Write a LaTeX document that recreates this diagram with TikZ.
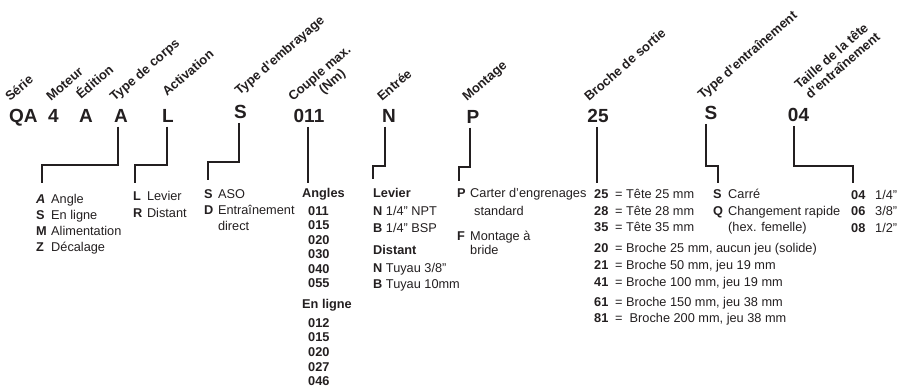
\documentclass[tikz,border=0pt]{standalone}
\usepackage{fontspec}
\setmainfont{Liberation Sans}
\usepackage{xcolor}
\definecolor{codeink}{HTML}{231F20}

\begin{document}
\begin{tikzpicture}[
    x=1pt, y=-1pt,
    every node/.style={inner sep=0pt, text=codeink},
    code/.style={font=\fontsize{19}{19}\selectfont\bfseries, anchor=base, inner ysep=4.5pt},
    field/.style={font=\fontsize{13}{14.5}\selectfont\bfseries, rotate=41, anchor=base west},
    legend/.style={font=\fontsize{12.75}{16}\selectfont, anchor=base west},
    link/.style={draw=codeink, line width=1.8pt}
]
    \useasboundingbox (0,0) rectangle (898,388);

    % order code
    \node[code] (cserie) at (23.3,122) {QA};
    \node[code] (cmoteur) at (53.5,122) {4};
    \node[code] (cedition) at (86,122) {A};
    \node[code] (ccorps) at (121,122) {A};
    \node[code] (cactiv) at (168,122) {L};
    \node[code] (cembr) at (240.5,118) {S};
    \node[code] (ccouple) at (309,122) {011};
    \node[code] (centree) at (389,122) {N};
    \node[code] (cmont) at (473,123) {P};
    \node[code] (cbroche) at (598,122) {25};
    \node[code] (centr) at (711,119) {S};
    \node[code] (ctaille) at (798.5,121) {04};

    % field names
    \node[field] (fserie) at (10,102) {Série};
    \node[field] (fmoteur) at (51,102) {Moteur};
    \node[field] (fedition) at (81,100) {Édition};
    \node[field] (fcorps) at (114.5,102) {Type de corps};
    \node[field] (factiv) at (167,97) {Activation};
    \node[field] (fembr) at (239.5,96) {Type d'embrayage};
    \node[field] (fcouple) at (293,102) {\begin{tabular}[t]{@{}c@{}}Couple max.\\\hspace*{8pt}(Nm)\end{tabular}};
    \node[field] (fentree) at (382,102) {Entrée};
    \node[field] (fmont) at (467,102) {Montage};
    \node[field] (fbroche) at (589,102) {Broche de sortie};
    \node[field] (fentr) at (702.5,100) {Type d'entraînement};
    \node[field] (ftaille) at (797,92) {\begin{tabular}[t]{@{}c@{}}Taille de la tête\\\hspace*{5pt}d'entraînement\end{tabular}};

    % options
    \node[legend] (lcorps) at (36,203) {\begin{tabular}[t]{@{}l@{\hspace{4.4pt}}l@{}}
        \textbf{\textit{A}} & Angle\\
        \textbf{S} & En ligne\\
        \textbf{M} & Alimentation\\
        \textbf{Z} & Décalage
    \end{tabular}};
    \node[legend] (lactiv) at (133,200) {\begin{tabular}[t]{@{}l@{\hspace{4.6pt}}l@{}}
        \textbf{L} & Levier\\[1pt]
        \textbf{R} & Distant
    \end{tabular}};
    \node[legend] (lembr) at (204,198) {\begin{tabular}[t]{@{}l@{\hspace{4.6pt}}l@{}}
        \textbf{S} & ASO\\
        \textbf{D} & Entraînement\\
        & direct
    \end{tabular}};
    \node[legend] (lcouple) at (302,197) {\begin{tabular}[t]{@{}l@{}}
        \textbf{Angles}\\[2pt]
        \hspace*{6pt}\textbf{011}\\[-1.5pt]
        \hspace*{6pt}\textbf{015}\\[-1.5pt]
        \hspace*{6pt}\textbf{020}\\[-1.5pt]
        \hspace*{6pt}\textbf{030}\\[-1.5pt]
        \hspace*{6pt}\textbf{040}\\[-1.5pt]
        \hspace*{6pt}\textbf{055}\\[4.5pt]
        \textbf{En ligne}\\[3pt]
        \hspace*{6pt}\textbf{012}\\[-1.3pt]
        \hspace*{6pt}\textbf{015}\\[-1.3pt]
        \hspace*{6pt}\textbf{020}\\[-1.3pt]
        \hspace*{6pt}\textbf{027}\\[-1.3pt]
        \hspace*{6pt}\textbf{046}
    \end{tabular}};
    \node[legend] (lentree) at (373,197) {\begin{tabular}[t]{@{}l@{}}
        \textbf{Levier}\\[2pt]
        \textbf{N} 1/4" NPT\\[1pt]
        \textbf{B} 1/4" BSP\\[6pt]
        \textbf{Distant}\\[2pt]
        \textbf{N} Tuyau 3/8"\\
        \textbf{B} Tuyau 10mm
    \end{tabular}};
    \node[legend] (lmont) at (457,197) {\begin{tabular}[t]{@{}l@{\hspace{4.5pt}}l@{}}
        \textbf{P} & Carter d'engrenages\\[2pt]
        & \hspace*{4pt}standard\\[9pt]
        \textbf{F} & Montage à\\[-2pt]
        & bride
    \end{tabular}};
    \node[legend] (lbroche) at (594,198) {\begin{tabular}[t]{@{}l@{\hspace{6.8pt}}l@{}}
        \textbf{25} & = Tête 25 mm\\[1pt]
        \textbf{28} & = Tête 28 mm\\
        \textbf{35} & = Tête 35 mm\\[5.5pt]
        \textbf{20} & = Broche 25 mm, aucun jeu (solide)\\[1.3pt]
        \textbf{21} & = Broche 50 mm, jeu 19 mm\\[0.7pt]
        \textbf{41} & = Broche 100 mm, jeu 19 mm\\[4pt]
        \textbf{61} & = Broche 150 mm, jeu 38 mm\\
        \textbf{81} & =\ \ Broche 200 mm, jeu 38 mm
    \end{tabular}};
    \node[legend] (lentr) at (713,198) {\begin{tabular}[t]{@{}l@{\hspace{5.1pt}}l@{}}
        \textbf{S} & Carré\\[1pt]
        \textbf{Q} & Changement rapide\\
        & (hex. femelle)
    \end{tabular}};
    \node[legend] (ltaille) at (851,199) {\begin{tabular}[t]{@{}l@{\hspace{9.8pt}}l@{}}
        \textbf{04} & 1/4”\\[0.7pt]
        \textbf{06} & 3/8”\\[1pt]
        \textbf{08} & 1/2”
    \end{tabular}};

    % connector ends
    \coordinate (ecorps) at (42,183);
    \coordinate (eactiv) at (135,183);
    \coordinate (eembr) at (208,180);
    \coordinate (ecouple) at (308,183);
    \coordinate (eentree) at (373,179);
    \coordinate (emont) at (459,181);
    \coordinate (ebroche) at (597,183);
    \coordinate (eentr) at (718,183);
    \coordinate (etaille) at (853,183);

    \draw[link] ([xshift=-3pt]ccorps.south) -- ++(0,38.5) -| (ecorps);
    \draw[link] ([xshift=-1pt]cactiv.south) -- ++(0,38.5) -| (eactiv);
    \draw[link] ([xshift=-1.5pt]cembr.south) -- ++(0,39.5) -| (eembr);
    \draw[link] (ccouple.south -| ecouple) -- (ecouple);
    \draw[link] ([xshift=-4pt]centree.south) -- ++(0,39.5) -| (eentree);
    \draw[link] ([xshift=-3pt]cmont.south) -- ++(0,39.5) -| (emont);
    \draw[link] (cbroche.south -| ebroche) -- (ebroche);
    \draw[link] ([xshift=-5pt]centr.south) -- ++(0,42.5) -| (eentr);
    \draw[link] ([xshift=-4.5pt]ctaille.south) -- ++(0,40.5) -| (etaille);
\end{tikzpicture}
\end{document}
